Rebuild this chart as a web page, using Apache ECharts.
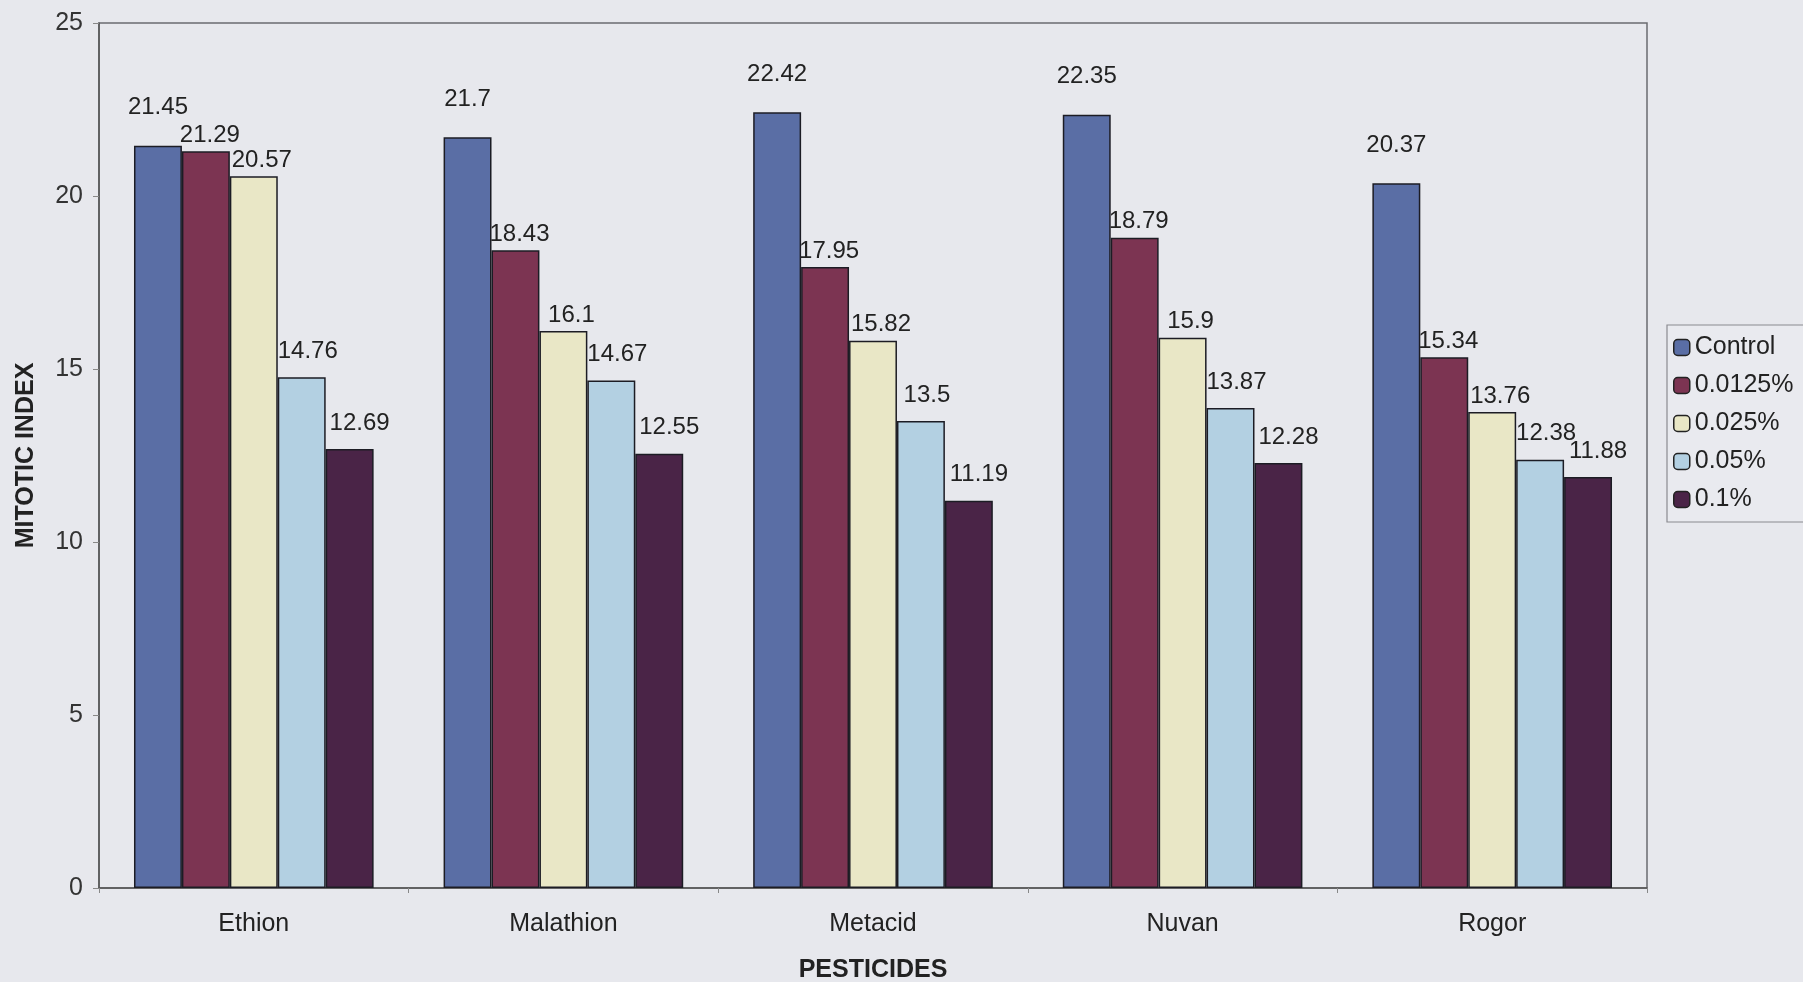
<!DOCTYPE html>
<html><head><meta charset="utf-8">
<script src="https://cdn.jsdelivr.net/npm/echarts@6/dist/echarts.min.js"></script>
<style>html,body{margin:0;padding:0;background:#e7e8ed;}#c{width:1803px;height:982px;}</style>
</head><body><div id="c"></div>
<script>
const categories = ['Ethion', 'Malathion', 'Metacid', 'Nuvan', 'Rogor'];
const seriesNames = ['Control', '0.0125%', '0.025%', '0.05%', '0.1%'];
const control = [21.45, 21.7, 22.42, 22.35, 20.37];
const c00125 = [21.29, 18.43, 17.95, 18.79, 15.34];
const c0025 = [20.57, 16.1, 15.82, 15.9, 13.76];
const c005 = [14.76, 14.67, 13.5, 13.87, 12.38];
const c01 = [12.69, 12.55, 11.19, 12.28, 11.88];
const yTicks = [0, 5, 10, 15, 20, 25];

const values = [control, c00125, c0025, c005, c01];
const colors = ['#5a6ea5', '#7c3452', '#e9e7c6', '#b3d0e2', '#4a2447'];
const labelDist = [26, 4, 4, 14, 14];
const labelOff = [0, 4, 8, 6, 10];
const font = 'Liberation Sans, Arial, sans-serif';

const chart = echarts.init(document.getElementById('c'));
chart.setOption({
  backgroundColor: '#e7e8ed',
  animation: false,
  grid: { left: 99, top: 23, width: 1548, height: 865, outerBoundsMode: 'none', containLabel: false,
    show: true, borderColor: '#6b6b70', borderWidth: 1.5, backgroundColor: 'transparent' },
  legend: {
    orient: 'vertical', left: 1667, top: 325, itemWidth: 16, itemHeight: 16, itemGap: 13,
    padding: [10, 14, 10, 6], borderColor: '#8a8a90', borderWidth: 1.2, backgroundColor: '#e9eaef',
    textStyle: { fontFamily: font, fontSize: 25, color: '#222' },
    data: seriesNames.map(n => ({ name: n, itemStyle: { borderColor: '#222', borderWidth: 1.5 } }))
  },
  xAxis: {
    type: 'category', data: categories,
    name: 'PESTICIDES', nameLocation: 'middle', nameGap: 70,
    nameTextStyle: { fontFamily: font, fontSize: 25, fontWeight: 'bold', color: '#222' },
    axisLine: { lineStyle: { color: '#555', width: 1.5 } },
    axisTick: { show: true, lineStyle: { color: '#888' } },
    axisLabel: { fontFamily: font, fontSize: 25, color: '#222', margin: 24 }
  },
  yAxis: {
    type: 'value', min: yTicks[0], max: yTicks[yTicks.length - 1], interval: 5,
    name: 'MITOTIC INDEX', nameLocation: 'middle', nameGap: 60,
    nameTextStyle: { fontFamily: font, fontSize: 25, fontWeight: 'bold', color: '#222' },
    axisLine: { show: true, lineStyle: { color: '#555', width: 1.5 } },
    axisTick: { show: true, length: 6, lineStyle: { color: '#888' } },
    axisLabel: { fontFamily: font, fontSize: 25, color: '#333', margin: 16 },
    splitLine: { show: false }
  },
  series: seriesNames.map((n, i) => ({
    name: n, type: 'bar', data: values[i],
    barGap: '0%', barCategoryGap: '22.6%',
    itemStyle: { color: colors[i], borderColor: '#1c1c24', borderWidth: 1.5 },
    label: { show: true, position: 'top', distance: labelDist[i], offset: [labelOff[i], 0],
      fontFamily: font, fontSize: 24, color: '#222' }
  }))
});
</script></body></html>
